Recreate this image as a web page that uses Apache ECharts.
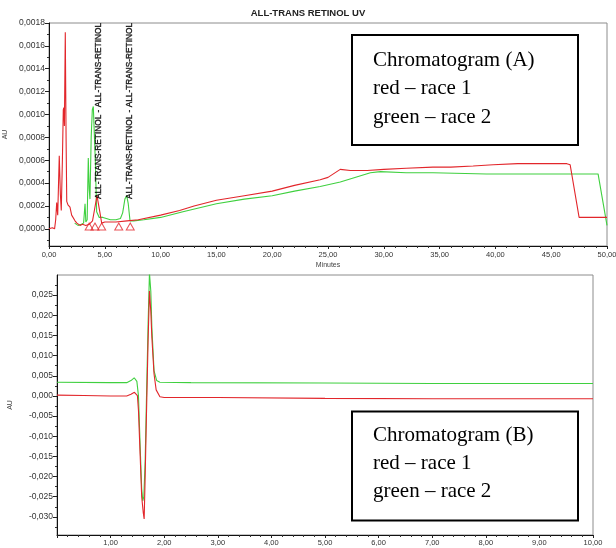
<!DOCTYPE html>
<html>
<head>
<meta charset="utf-8">
<script src="https://cdn.jsdelivr.net/npm/echarts@6/dist/echarts.min.js"></script>
<style>
  html, body { margin: 0; padding: 0; background: #fff; }
  #chart { width: 616px; height: 548px; }
</style>
</head>
<body>
<div id="chart"></div>
<script>
// chromatogram A : [minutes, AU]
const redA = [
  [0, 0.00000], [0.3, 0.00001], [0.5, 0.00000], [0.6, 0.00008], [0.69, 0.00023], [0.78, 0.00012],
  [0.92, 0.00064], [1.02, 0.00030], [1.1, 0.00016], [1.2, 0.00060], [1.28, 0.00104], [1.33, 0.00106],
  [1.38, 0.00090], [1.46, 0.00172], [1.53, 0.00080], [1.59, 0.00024], [1.7, 0.00021], [1.88, 0.00019],
  [2.03, 0.00012], [2.15, 0.00011], [2.33, 0.00007], [2.5, 0.00005], [2.78, 0.00003], [3.0, 0.00004],
  [3.3, 0.00003], [3.6, 0.00004], [3.9, 0.00007], [4.1, 0.00018], [4.3, 0.00029], [4.42, 0.00028],
  [4.55, 0.00015], [4.72, 0.00005], [5.0, 0.00006], [6.0, 0.00006], [7.0, 0.00007], [8.0, 0.00008],
  [10.0, 0.00012], [11.7, 0.00016], [13.0, 0.00020], [15.0, 0.00025], [17.5, 0.00029], [20.0, 0.00033],
  [22.0, 0.00038], [24.3, 0.00043], [25.0, 0.00045], [26.1, 0.00052], [27.0, 0.00051], [28.5, 0.00051],
  [30.0, 0.00052], [32.0, 0.00053], [34.4, 0.00054], [36.0, 0.00054], [38.0, 0.00055], [39.8, 0.00056],
  [42.0, 0.00057], [44.0, 0.00057], [46.4, 0.00057], [46.7, 0.00056], [47.5, 0.00010], [48.5, 0.00010],
  [50.0, 0.00010]
];
const greenA = [
  [2.3, 0.00005], [2.6, 0.00003], [2.9, 0.00004], [3.1, 0.00005], [3.23, 0.00022], [3.3, 0.00006],
  [3.42, 0.00008], [3.52, 0.00062], [3.6, 0.00035], [3.67, 0.00026], [3.78, 0.00080], [3.88, 0.00104],
  [3.97, 0.00107], [4.06, 0.00106], [4.15, 0.00060], [4.27, 0.00015], [4.5, 0.00010], [4.84, 0.00010],
  [5.5, 0.00008], [6.0, 0.00008], [6.4, 0.00009], [6.6, 0.00014], [6.8, 0.00026], [6.96, 0.00029],
  [7.1, 0.00022], [7.26, 0.00007], [7.6, 0.00007], [8.5, 0.00008], [10.0, 0.00010], [12.0, 0.00015],
  [15.0, 0.00022], [17.5, 0.00026], [20.0, 0.00029], [22.0, 0.00033], [24.3, 0.00037], [26.1, 0.00041],
  [28.8, 0.00049], [29.7, 0.00050], [32.0, 0.00049], [34.4, 0.00049], [39.2, 0.00048], [45.0, 0.00048],
  [49.2, 0.00048], [50.0, 0.00003]
];
const peakMarksA = [[3.6, 0.00002], [4.12, 0.00002], [4.72, 0.00002], [6.25, 0.00002], [7.28, 0.00002]];
const peakNamesA = [[4.45, 0.00026], [7.2, 0.00026]];
const peakNameText = 'ALL-TRANS-RETINOL - ALL-TRANS-RETINOL';

// chromatogram B : [minutes, AU]
const redB = [
  [0, 0.0002], [0.5, 0.0001], [1.0, 0.0000], [1.3, 0.0000], [1.38, 0.0004], [1.445, 0.0009],
  [1.5, 0.0001], [1.52, -0.0036], [1.55, -0.0143], [1.58, -0.0250], [1.61, -0.0290], [1.626, -0.0305],
  [1.645, -0.0200], [1.67, -0.0040], [1.70, 0.0140], [1.725, 0.0260], [1.75, 0.0210], [1.77, 0.0145],
  [1.81, 0.0055], [1.85, 0.0015], [1.92, -0.0002], [2.0, -0.0004], [3.0, -0.0004], [5.0, -0.0006],
  [7.0, -0.0007], [10.0, -0.0007]
];
const greenB = [
  [0, 0.0034], [1.0, 0.0033], [1.3, 0.0033], [1.38, 0.0038], [1.44, 0.0045], [1.49, 0.0036],
  [1.52, 0.0000], [1.55, -0.0120], [1.58, -0.0230], [1.60, -0.0260], [1.62, -0.0250], [1.645, -0.0160],
  [1.67, 0.0000], [1.70, 0.0180], [1.725, 0.0305], [1.75, 0.0260], [1.77, 0.0170], [1.81, 0.0063],
  [1.86, 0.0038], [1.92, 0.0034], [2.5, 0.0033], [5.0, 0.0032], [7.0, 0.0031], [10.0, 0.0031]
];

// tick labels
const aTicksX = [0, 5, 10, 15, 20, 25, 30, 35, 40, 45, 50];
const aTicksY = [0, 0.0002, 0.0004, 0.0006, 0.0008, 0.0010, 0.0012, 0.0014, 0.0016, 0.0018];
const aMinorY = [-0.0001, 0.0001, 0.0003, 0.0005, 0.0007, 0.0009, 0.0011, 0.0013, 0.0015, 0.0017];
const bTicksX = [1, 2, 3, 4, 5, 6, 7, 8, 9, 10];
const bTicksY = [-0.030, -0.025, -0.020, -0.015, -0.010, -0.005, 0, 0.005, 0.010, 0.015, 0.020, 0.025];
const bMinorY = [-0.0325, -0.0275, -0.0225, -0.0175, -0.0125, -0.0075, -0.0025, 0.0025, 0.0075, 0.0125, 0.0175, 0.0225, 0.0275];

const RED = '#e2262b';
const GREEN = '#3fd03f';
const labelFont = 'Liberation Sans, Arial, sans-serif';
const serif = 'Liberation Serif, Times New Roman, serif';

function comma(v, d) {
  return v.toFixed(d).replace('.', ',');
}

let chart = echarts.init(document.getElementById('chart'), null, { renderer: 'canvas' });

let axisLine = { show: true, onZero: false, lineStyle: { color: '#111', width: 1 } };
let tickStyle = { lineStyle: { color: '#222', width: 1 } };

let option = {
  animation: false,
  backgroundColor: '#fff',
  title: {
    text: 'ALL-TRANS RETINOL UV',
    left: 'center',
    top: 3,
    textStyle: { fontSize: 9.5, fontWeight: 'bold', color: '#222', fontFamily: labelFont }
  },
  grid: [
    { left: 49, top: 23, width: 558, height: 223, show: true, borderColor: '#8c8c8c', borderWidth: 1, outerBoundsMode: 'none' },
    { left: 57, top: 275, width: 536, height: 260, show: true, borderColor: '#8c8c8c', borderWidth: 1, outerBoundsMode: 'none' }
  ],
  xAxis: [
    {
      gridIndex: 0, type: 'value', min: 0, max: 50, interval: 5,
      name: 'Minutes', nameLocation: 'middle', nameGap: 16,
      nameTextStyle: { fontSize: 7, color: '#444', fontFamily: labelFont },
      axisLine: axisLine,
      axisTick: Object.assign({ length: 3 }, tickStyle),
      minorTick: { show: true, splitNumber: 5, length: 2, lineStyle: { color: '#333' } },
      axisLabel: { fontSize: 7.5, color: '#333', margin: 5, fontFamily: labelFont, customValues: aTicksX, formatter: v => comma(v, 2) },
      splitLine: { show: false }
    },
    {
      gridIndex: 1, type: 'value', min: 0, max: 10, interval: 1,
      name: 'Minutes', nameLocation: 'middle', nameGap: 13, nameMoveOverlap: false,
      nameTextStyle: { fontSize: 7, color: '#444', fontFamily: labelFont },
      axisLine: axisLine,
      axisTick: Object.assign({ length: 3 }, tickStyle),
      minorTick: { show: true, splitNumber: 5, length: 2, lineStyle: { color: '#333' } },
      axisLabel: { fontSize: 7.5, color: '#333', margin: 4, fontFamily: labelFont, customValues: bTicksX, formatter: v => comma(v, 2) },
      splitLine: { show: false }
    }
  ],
  yAxis: [
    {
      gridIndex: 0, type: 'value', min: -0.00015, max: 0.0018, position: 'left',
      name: 'AU', nameLocation: 'middle', nameGap: 36,
      nameTextStyle: { fontSize: 7, color: '#444', fontFamily: labelFont },
      axisLine: axisLine,
      axisTick: Object.assign({ length: 4, customValues: aTicksY }, tickStyle),
      axisLabel: { fontSize: 8.5, color: '#333', margin: 4, fontFamily: labelFont, customValues: aTicksY, formatter: v => comma(v, 4) },
      splitLine: { show: false }
    },
    {
      gridIndex: 0, type: 'value', min: -0.00015, max: 0.0018, position: 'left',
      axisLine: { show: false, onZero: false },
      axisTick: { show: true, length: 2, customValues: aMinorY, lineStyle: { color: '#333' } },
      axisLabel: { show: false },
      splitLine: { show: false }
    },
    {
      gridIndex: 1, type: 'value', min: -0.0345, max: 0.030, position: 'left',
      name: 'AU', nameLocation: 'middle', nameGap: 43,
      nameTextStyle: { fontSize: 7, color: '#444', fontFamily: labelFont },
      axisLine: axisLine,
      axisTick: Object.assign({ length: 4, customValues: bTicksY }, tickStyle),
      axisLabel: { fontSize: 8.5, color: '#333', margin: 4, fontFamily: labelFont, customValues: bTicksY, formatter: v => comma(v, 3) },
      splitLine: { show: false }
    },
    {
      gridIndex: 1, type: 'value', min: -0.0345, max: 0.030, position: 'left',
      axisLine: { show: false, onZero: false },
      axisTick: { show: true, length: 2, customValues: bMinorY, lineStyle: { color: '#333' } },
      axisLabel: { show: false },
      splitLine: { show: false }
    }
  ],
  series: [
    {
      name: 'race 2 A', type: 'line', xAxisIndex: 0, yAxisIndex: 0, data: greenA,
      showSymbol: false, lineStyle: { color: GREEN, width: 1.1 }, itemStyle: { color: GREEN }
    },
    {
      name: 'race 1 A', type: 'line', xAxisIndex: 0, yAxisIndex: 0, data: redA,
      showSymbol: false, lineStyle: { color: RED, width: 1.1 }, itemStyle: { color: RED }
    },
    {
      // integration start/end markers
      name: 'marks', type: 'scatter', xAxisIndex: 0, yAxisIndex: 0, data: peakMarksA,
      symbol: 'triangle', symbolSize: [8, 7],
      itemStyle: { color: 'rgba(255,255,255,0)', borderColor: RED, borderWidth: 1 }
    },
    {
      name: 'peak names', type: 'scatter', xAxisIndex: 0, yAxisIndex: 0, data: peakNamesA,
      symbolSize: 0, z: 5,
      label: {
        show: true, formatter: peakNameText, rotate: 90, position: 'top', distance: 0,
        align: 'left', verticalAlign: 'middle',
        fontSize: 8.3, color: '#000', fontFamily: labelFont,
        textBorderColor: '#000', textBorderWidth: 0.4
      }
    },
    {
      name: 'race 2 B', type: 'line', xAxisIndex: 1, yAxisIndex: 2, data: greenB,
      showSymbol: false, lineStyle: { color: GREEN, width: 1.1 }, itemStyle: { color: GREEN }
    },
    {
      name: 'race 1 B', type: 'line', xAxisIndex: 1, yAxisIndex: 2, data: redB,
      showSymbol: false, lineStyle: { color: RED, width: 1.1 }, itemStyle: { color: RED }
    }
  ],
  graphic: [
    {
      type: 'rect', shape: { x: 352, y: 35, width: 226, height: 110 },
      style: { fill: '#fff', stroke: '#000', lineWidth: 2 }, z: 100
    },
    {
      type: 'text', x: 373, y: 46, z: 101,
      style: { text: 'Chromatogram (A)\nred – race 1\ngreen – race 2', fill: '#000', font: '21px ' + serif, lineHeight: 28.5, verticalAlign: 'top' }
    },
    {
      type: 'rect', shape: { x: 352, y: 411.5, width: 226, height: 109 },
      style: { fill: '#fff', stroke: '#000', lineWidth: 2 }, z: 100
    },
    {
      type: 'text', x: 373, y: 421, z: 101,
      style: { text: 'Chromatogram (B)\nred – race 1\ngreen – race 2', fill: '#000', font: '21px ' + serif, lineHeight: 28, verticalAlign: 'top' }
    }
  ]
};

chart.setOption(option);
</script>
</body>
</html>
